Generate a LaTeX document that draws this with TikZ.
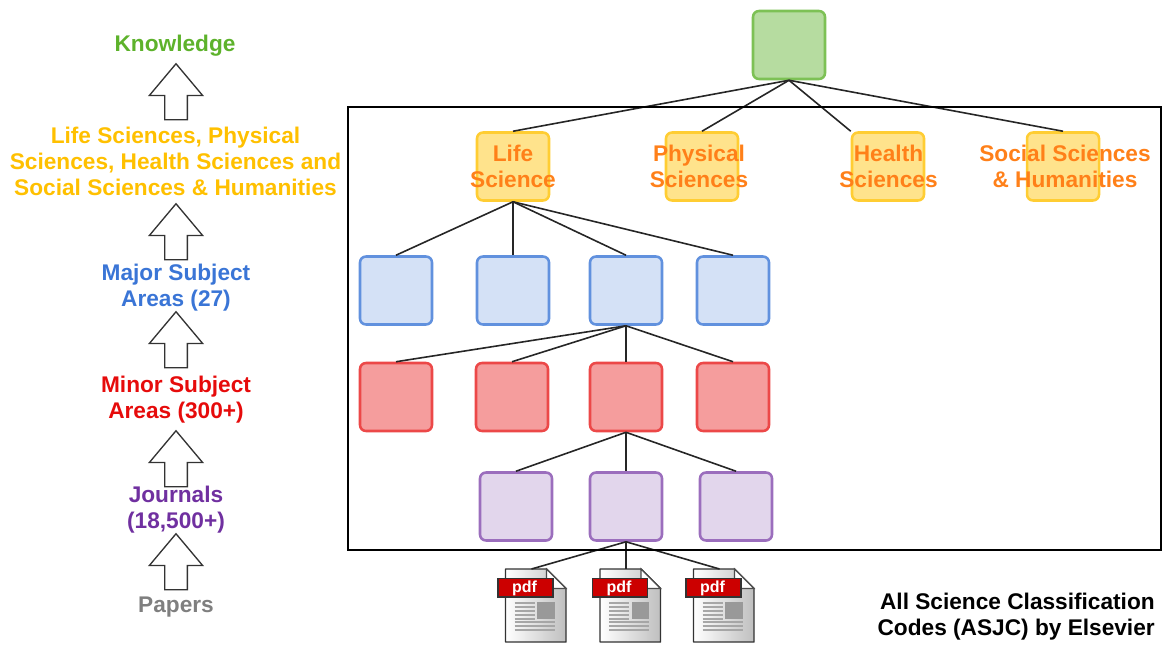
\documentclass[tikz,border=0pt]{standalone}
\usepackage{fontspec}
\setmainfont{Liberation Sans}
\usetikzlibrary{shapes.arrows}
\definecolor{knowgreen}{HTML}{5DB22B}
\definecolor{fieldyellow}{HTML}{FFC000}
\definecolor{fieldorange}{HTML}{FF8019}
\definecolor{majorblue}{HTML}{3A75D6}
\definecolor{minorred}{HTML}{E60B0B}
\definecolor{journalpurple}{HTML}{7030A0}
\definecolor{papergray}{HTML}{7F7F7F}
\definecolor{pdfred}{HTML}{CC0000}
\tikzset{
  pdfdoc/.pic={
    \draw[line width=1.1pt,black!80,left color=white,right color=black!25,line join=round]
      (-30,-36.5) -- (11,-36.5) -- (30.5,-17) -- (30.5,36.5) -- (-30,36.5) -- cycle;
    \draw[line width=.8pt,black!70,fill=white] (11,-36.5) -- (30.5,-17) -- (11,-17) -- cycle;
    \draw[line width=1.5pt,black!35,line cap=butt]
      (-21,-3) -- (-1,-3) (-21,1) -- (-1,1) (-21,5) -- (-1,5) (-21,9) -- (-1,9) (-21,13) -- (-1,13)
      (-21,16.5) -- (19,16.5) (-21,20.5) -- (19,20.5) (-21,24.5) -- (19,24.5);
    \fill[black!40] (1.5,-3.5) rectangle (19,13.5);
    \draw[line width=1pt,black!80,fill=pdfred] (-37.5,-27) rectangle (17.5,-8.5);
    \node[text=white,font=\bfseries\fontsize{12}{12}\selectfont,inner sep=0pt] (-pdf) at (-11,-17.5) {pdf};
    \coordinate (-top) at (-4,-36.5);
  }
}
\begin{document}
\begin{tikzpicture}[x=.75pt,y=-.75pt,
    levelbox/.style={rectangle,rounded corners=4.5pt,line width=1.9pt,minimum width=54pt,minimum height=51pt,inner sep=0pt},
    rootbox/.style={levelbox,draw=knowgreen!80!white,fill=knowgreen!45!white},
    fieldbox/.style={levelbox,draw=fieldyellow!80!white,fill=fieldyellow!45!white},
    majorbox/.style={levelbox,draw=majorblue!80!white,fill=majorblue!22!white},
    minorbox/.style={levelbox,draw=minorred!75!white,fill=minorred!40!white},
    journalbox/.style={levelbox,draw=journalpurple!70!white,fill=journalpurple!20!white},
    sidetext/.style={align=center,inner sep=0pt,font=\bfseries\fontsize{17}{19.5}\selectfont},
    upblock/.style={shape=single arrow,draw=black!80,fill=white,line width=1pt,shape border rotate=90,
      minimum height=42pt,single arrow head extend=11.5pt,single arrow tip angle=80,inner sep=8pt},
    link/.style={line width=1.2pt,black!85}]
    \useasboundingbox (0,0) rectangle (1162,646);
    % left column
    \node[upblock] at (176,98.5) (up1) {};
    \node[upblock] at (176,238.5) (up2) {};
    \node[upblock] at (176,346.5) (up3) {};
    \node[upblock] at (176,465.5) (up4) {};
    \node[upblock] at (176,568.5) (up5) {};
    \node[sidetext,text=knowgreen] at (175,46) (tknow) {Knowledge};
    \node[sidetext,text=fieldyellow] at (175.5,161) (tfield) {Life Sciences, Physical\\Sciences, Health Sciences and\\Social Sciences \& Humanities};
    \node[sidetext,text=majorblue] at (176,288) (tmajor) {Major Subject\\Areas (27)};
    \node[sidetext,text=minorred] at (176,400) (tminor) {Minor Subject\\Areas (300+)};
    \node[sidetext,text=journalpurple] at (176,510) (tjournal) {Journals\\(18,500+)};
    \node[sidetext,text=papergray] at (176,607) (tpaper) {Papers};
    % tree
    \node[rootbox] at (789,45) (root) {};
    \node[fieldbox] at (513,166.5) (life) {};
    \node[fieldbox] at (702,166.5) (phys) {};
    \node[fieldbox] at (888,166.5) (health) {};
    \node[fieldbox] at (1063,166.5) (social) {};
    \node[majorbox] at (396,290.5) (maja) {};
    \node[majorbox] at (513,290.5) (majb) {};
    \node[majorbox] at (626,290.5) (majc) {};
    \node[majorbox] at (733,290.5) (majd) {};
    \node[minorbox] at (396,397) (mina) {};
    \node[minorbox] at (512,397) (minb) {};
    \node[minorbox] at (626,397) (minc) {};
    \node[minorbox] at (733,397) (mind) {};
    \node[journalbox] at (516,506.5) (joua) {};
    \node[journalbox] at (626,506.5) (joub) {};
    \node[journalbox] at (736,506.5) (jouc) {};
    \pic (doca) at (535.5,605.5) {pdfdoc};
    \pic (docb) at (630,605.5) {pdfdoc};
    \pic (docc) at (723.5,605.5) {pdfdoc};
    \draw[link] (root.south) -- (life.north);
    \draw[link] (root.south) -- (phys.north);
    \draw[link] (root.south) -- (health.north west);
    \draw[link] (root.south) -- (social.north);
    \draw[link] (life.south) -- (maja.north);
    \draw[link] (life.south) -- (majb.north);
    \draw[link] (life.south) -- (majc.north);
    \draw[link] (life.south) -- (majd.north);
    \draw[link] (majc.south) -- (mina.north);
    \draw[link] (majc.south) -- (minb.north);
    \draw[link] (majc.south) -- (minc.north);
    \draw[link] (majc.south) -- (mind.north);
    \draw[link] (minc.south) -- (joua.north);
    \draw[link] (minc.south) -- (joub.north);
    \draw[link] (minc.south) -- (jouc.north);
    \draw[link] (joub.south) -- (doca-top);
    \draw[link] (joub.south) -- (docb-top);
    \draw[link] (joub.south) -- (docc-top);
    \node[draw=black,line width=1.9pt,minimum width=609.75pt,minimum height=332.25pt,inner sep=0pt] at (754.5,328.5) (frame) {};
    % labels over the field boxes
    \node[sidetext,text=fieldorange] at (513,166) (llife) {Life\\Science};
    \node[sidetext,text=fieldorange] at (699,166) (lphys) {Physical\\Sciences};
    \node[sidetext,text=fieldorange] at (888.5,166) (lhealth) {Health\\Sciences};
    \node[sidetext,text=fieldorange] at (1065,166) (lsocial) {Social Sciences\\\& Humanities};
    \node[sidetext,align=right,anchor=east,text=black] at (1155,617) (tasjc) {All Science Classification\\Codes (ASJC) by Elsevier};
\end{tikzpicture}
\end{document}
